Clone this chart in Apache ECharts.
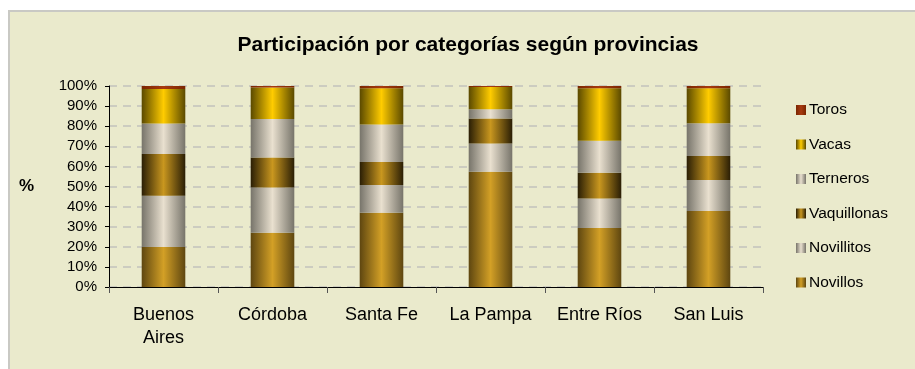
<!DOCTYPE html>
<html>
<head>
<meta charset="utf-8">
<script src="https://cdn.jsdelivr.net/npm/echarts@6/dist/echarts.min.js"></script>
<style>
  html, body { margin: 0; padding: 0; background: #ffffff; }
  #chart { width: 915px; height: 369px; }
</style>
</head>
<body>
<div id="chart"></div>
<script>
// Provinces along the x axis
const provincias = ['Buenos Aires', 'Córdoba', 'Santa Fe', 'La Pampa', 'Entre Ríos', 'San Luis'];

// Share of each cattle category per province (%)
const novillos    = [19.9, 27.0, 36.9, 57.3, 29.3, 37.8];
const novillitos  = [25.5, 22.5, 13.8, 14.1, 14.7, 15.4];
const vaquillonas = [20.8, 14.9, 11.5, 12.4, 12.9, 12.0];
const terneros    = [15.1, 19.2, 18.6, 4.6, 15.8, 16.3];
const vacas       = [17.2, 15.7, 18.1, 11.1, 26.2, 17.4];
const toros       = [1.5, 0.7, 1.1, 0.5, 1.1, 1.1];

// Legend order, top to bottom
const legendOrder = ['Toros', 'Vacas', 'Terneros', 'Vaquillonas', 'Novillitos', 'Novillos'];

const FONT = 'Arial, "Liberation Sans", sans-serif';

// Horizontal gradient giving each column a cylindrical look
function cylinder(edge, mid) {
  return new echarts.graphic.LinearGradient(0, 0, 1, 0, [
    { offset: 0, color: edge },
    { offset: 0.5, color: mid },
    { offset: 1, color: edge }
  ]);
}

const palette = {
  Novillos:    cylinder('#5e4610', '#d3a026'),
  Novillitos:  cylinder('#77746a', '#e9e0cf'),
  Vaquillonas: cylinder('#2a1e05', '#c9971f'),
  Terneros:    cylinder('#77746a', '#e9e0cf'),
  Vacas:       cylinder('#5a4900', '#ffcc00'),
  Toros:       cylinder('#7a2600', '#a83a10')
};

function barSeries(name, values) {
  return {
    name: name,
    type: 'bar',
    stack: 'total',
    data: values,
    barCategoryGap: '60%',
    itemStyle: { color: palette[name] }
  };
}

// Long province names go on two lines
function wrapLabel(v) {
  return v.length > 11 ? v.replace(' ', '\n') : v;
}

const chart = echarts.init(document.getElementById('chart'), null, { renderer: 'canvas' });

chart.setOption({
  animation: false,
  backgroundColor: '#ffffff',
  graphic: [{
    type: 'rect',
    left: 8, top: 10,
    shape: { width: 920, height: 370 },
    style: { fill: '#eaeacc', stroke: '#c9c9c4', lineWidth: 2 },
    z: -10
  }],
  title: {
    text: 'Participación por categorías según provincias',
    left: 463,
    top: 30,
    textAlign: 'center',
    textStyle: { fontFamily: FONT, fontSize: 21, fontWeight: 'bold', color: '#000' }
  },
  legend: {
    orient: 'vertical',
    left: 791,
    top: 97,
    data: legendOrder,
    itemWidth: 10,
    itemHeight: 10,
    itemGap: 18.5,
    icon: 'rect',
    textStyle: { fontFamily: FONT, fontSize: 15.5, color: '#000', lineHeight: 15, padding: [0, 0, 0, -2] }
  },
  grid: { left: 109, right: 152, top: 86, bottom: 82, containLabel: false },
  xAxis: {
    type: 'category',
    data: provincias,
    axisLine: { lineStyle: { color: '#000', width: 1 } },
    axisTick: { show: true, interval: 0, length: 6, lineStyle: { color: '#555' } },
    axisLabel: {
      interval: 0,
      formatter: wrapLabel,
      fontFamily: FONT, fontSize: 18, color: '#000',
      margin: 17, lineHeight: 23
    }
  },
  yAxis: {
    type: 'value',
    min: 0, max: 100, interval: 10,
    name: '%',
    nameLocation: 'middle',
    nameRotate: 0,
    nameGap: 75,
    nameTextStyle: { fontFamily: FONT, fontSize: 17, fontWeight: 'bold', color: '#000' },
    axisLine: { show: true, lineStyle: { color: '#000', width: 1 } },
    axisTick: { show: true, length: 4, lineStyle: { color: '#000' } },
    axisLabel: { formatter: '{value}%', fontFamily: FONT, fontSize: 15, color: '#000', margin: 12 },
    splitLine: { show: true, lineStyle: { color: '#c2c2bc', width: 1.5, type: [8, 6] } }
  },
  series: [
    barSeries('Novillos', novillos),
    barSeries('Novillitos', novillitos),
    barSeries('Vaquillonas', vaquillonas),
    barSeries('Terneros', terneros),
    barSeries('Vacas', vacas),
    barSeries('Toros', toros)
  ]
});
</script>
</body>
</html>
